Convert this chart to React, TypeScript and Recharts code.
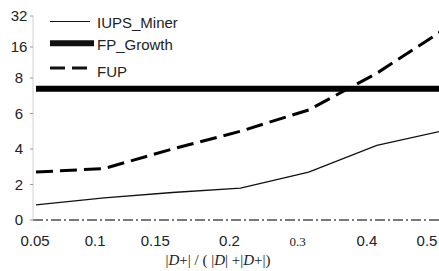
import React from 'react';
import { LineChart, Line, XAxis, YAxis, Legend } from 'recharts';

// x categories: |D+| / (|D| + |D+|)
const ratios = ['0.05', '0.1', '0.15', '0.2', '0.3', '0.4', '0.5'];
// runtime values
const iupsMiner = [0.85, 1.25, 1.55, 1.8, 2.7, 4.2, 5.05];
const fpGrowth = [7.4, 7.4, 7.4, 7.4, 7.4, 7.4, 7.4];
const fup = [2.7, 2.9, 4.0, 5.0, 6.2, 8.9, 24];
// y tick labels (0..8 linear, then doubling)
const yTickValues = [0, 2, 4, 6, 8, 16, 32];

// axis is linear up to 8, then each doubling takes a bit less room
const DOUBLING = 0.873;
const toAxis = (v: number) => (v <= 8 ? v / 2 : 4 + DOUBLING * Math.log2(v / 8));

const data = ratios.map((r, i) => ({
  ratio: r,
  IUPS_Miner: toAxis(iupsMiner[i]),
  FP_Growth: toAxis(fpGrowth[i]),
  FUP: toAxis(fup[i]),
}));

const sans = '"Liberation Sans", Arial, sans-serif';
const serif = '"Liberation Serif", "Times New Roman", serif';

// labels in the original sit a little left of their points
const labelNudge = [-1, -9, -17, -11, -11, -10, -18];

const XTick = (props: any) => {
  const { x, y, payload, index } = props;
  const isSerif = payload.value === '0.3';
  return (
    <text
      x={x + (labelNudge[index] ?? 0)}
      y={y}
      dy={18}
      textAnchor="middle"
      fill="#222"
      fontSize={isSerif ? 13 : 15}
      fontFamily={isSerif ? serif : sans}
    >
      {payload.value}
    </text>
  );
};

const YTick = (props: any) => {
  const { y, payload } = props;
  const i = yTickValues.findIndex((v) => Math.abs(toAxis(v) - payload.value) < 1e-6);
  return (
    <text x={19} y={y} dy="0.36em" textAnchor="middle" fill="#222" fontSize={15} fontFamily={sans}>
      {i >= 0 ? yTickValues[i] : ''}
    </text>
  );
};

const legendStyle: Record<string, { y: number; textY: number; width: number; dash?: string; x2: number }> = {
  IUPS_Miner: { y: 21.5, textY: 28, width: 1.2, x2: 90 },
  FP_Growth: { y: 43.3, textY: 50, width: 6, x2: 94 },
  FUP: { y: 68, textY: 77, width: 3, dash: '15 7', x2: 88 },
};

const LegendBox = (props: any) => {
  const { payload = [] } = props;
  return (
    <svg width={200} height={85} style={{ display: 'block' }}>
      {payload.map((p: any) => {
        const s = legendStyle[p.dataKey];
        if (!s) return null;
        return (
          <g key={p.dataKey}>
            <line x1={50} x2={s.x2} y1={s.y} y2={s.y} stroke="#111" strokeWidth={s.width} strokeDasharray={s.dash} />
            <text x={97} y={s.textY} fontSize={15} fontFamily={sans} fill="#222">
              {p.value}
            </text>
          </g>
        );
      })}
    </svg>
  );
};

export default function App() {
  return (
    <div style={{ position: 'absolute', left: 0, top: 0, width: 439, height: 271, overflow: 'hidden', background: '#fff' }}>
      <LineChart width={470} height={271} data={data} margin={{ top: 16, right: 25, left: 0, bottom: 21 }}>
        <XAxis
          dataKey="ratio"
          height={30}
          padding={{ left: 3, right: 0 }}
          tickLine={false}
          tick={<XTick />}
          interval={0}
          axisLine={{ stroke: '#7a7a7a', strokeWidth: 2, strokeDasharray: '10 3 2 3' }}
        />
        <YAxis
          type="number"
          width={33}
          domain={[0, 4 + 2 * DOUBLING]}
          ticks={yTickValues.map(toAxis)}
          tick={<YTick />}
          tickSize={3}
          tickLine={{ stroke: '#999' }}
          axisLine={{ stroke: '#d0d0d0' }}
        />
        <Legend
          layout="vertical"
          align="center"
          verticalAlign="middle"
          content={<LegendBox />}
          wrapperStyle={{ position: 'absolute', left: 0, top: 0, width: 200, height: 85 }}
        />
        <Line dataKey="IUPS_Miner" stroke="#111" strokeWidth={1.3} dot={false} isAnimationActive={false} />
        <Line dataKey="FP_Growth" stroke="#000" strokeWidth={6} dot={false} isAnimationActive={false} />
        <Line dataKey="FUP" stroke="#000" strokeWidth={3} strokeDasharray="17 7" dot={false} isAnimationActive={false} />
      </LineChart>
      <div
        style={{
          position: 'absolute',
          left: 0,
          width: 436,
          top: 252,
          textAlign: 'center',
          fontFamily: serif,
          fontSize: 15,
          color: '#222',
          whiteSpace: 'pre',
        }}
      >
        |<i>D</i>+| / ( |<i>D</i>| +|<i>D</i>+|)
      </div>
    </div>
  );
}
